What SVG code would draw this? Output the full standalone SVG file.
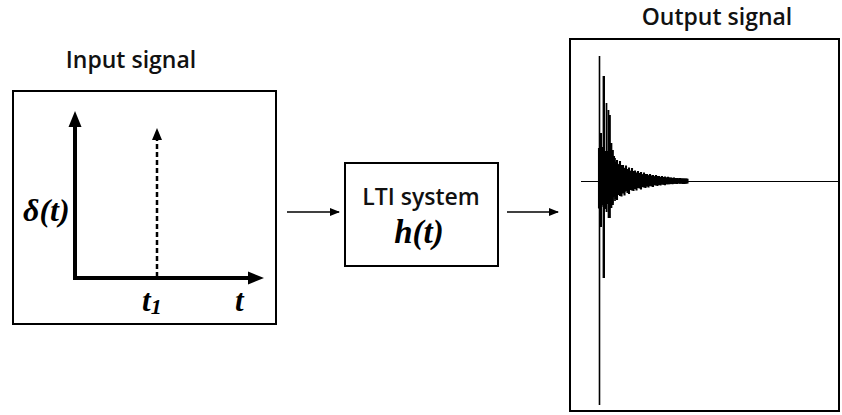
<svg xmlns="http://www.w3.org/2000/svg" width="842" height="415" viewBox="0 0 842 415">
<style>
.box{fill:#fff;stroke:#000;stroke-width:2}
.title{font-family:"Open Sans","Liberation Sans",sans-serif;font-weight:600;font-size:23px;fill:#111;text-anchor:middle}
.math{font-family:"Liberation Serif","Times New Roman",serif;font-weight:bold;font-style:italic;fill:#000}
.conn{stroke:#000;stroke-width:1.3;fill:none}
.osc{stroke:#000;stroke-width:2.1;fill:none}
</style>
<defs>
<marker id="ah" markerWidth="10" markerHeight="8" refX="9" refY="4" orient="auto" markerUnits="userSpaceOnUse">
<path d="M0,0 L10,4 L0,8 Z" fill="#000"/>
</marker>
</defs>

<g id="input-signal">
<text class="title" x="131" y="68">Input signal</text>
<rect class="box" x="13" y="91" width="263" height="233"/>
<line x1="75" y1="280" x2="75" y2="124" stroke="#000" stroke-width="4"/>
<path d="M75,111 L81.5,127 L68.5,127 Z" fill="#000"/>
<line x1="73" y1="278" x2="250" y2="278" stroke="#000" stroke-width="4"/>
<path d="M264,278 L248,271.5 L248,284.5 Z" fill="#000"/>
<line x1="157" y1="277" x2="157" y2="139" stroke="#000" stroke-width="2.5" stroke-dasharray="5,3"/>
<path d="M157,128 L162,140 L152,140 Z" fill="#000"/>
<text class="math" x="23" y="221" font-size="32">δ(t)</text>
<text class="math" x="142" y="311" font-size="31">t<tspan font-size="22" dy="3">1</tspan></text>
<text class="math" x="235" y="311" font-size="31">t</text>
</g>

<g id="lti-system">
<rect class="box" x="345" y="163" width="153" height="103"/>
<text class="title" x="421" y="205">LTI system</text>
<text class="math" x="419" y="243" font-size="33" text-anchor="middle">h(t)</text>
</g>

<g id="output-signal">
<text class="title" x="717" y="25">Output signal</text>
<rect class="box" x="570" y="39" width="269" height="372"/>
<line x1="581" y1="181.5" x2="838" y2="181.5" stroke="#000" stroke-width="1.2"/>
<line x1="599.5" y1="56" x2="599.5" y2="405" stroke="#000" stroke-width="1.6"/>
<polygon fill="#000" points="599,150 605,154 611,158 617,163 623,167 629,170 635,172.5 641,174 647,175 653,176 659,176.8 665,177.3 671,177.8 680,178.3 688,178.8 688,183.3 680,183.6 671,184 665,184.4 659,184.8 653,185.5 647,186.3 641,187.5 635,188.5 629,190.5 623,192.5 617,195.5 611,198.5 605,204 599,207"/>
<path class="osc" d="M599,148V208.5M600.5,152V213M602,147V203M603.5,154V207M605,151V209M606.5,158V203M608,151V204M609.5,157V205M611,156V200M612.5,160V203M614,156V196M615.5,162V199M617,160V200M618.5,166V195M620,161V196M621.5,165V196.5M623,165V193.5M624.5,168V195.5M626,165.5V191M627.5,169V193M629,167.5V194M630.5,171V190M632,168V190.5M633.5,171V191M635,170.5V189M636.5,172.5V190.5M638,171V187.5M639.5,173V188.5M641,172V189.5M642.5,174.5V187M644,172.5V187.5M645.5,174V188M647,174V186.5M648.5,175.5V187.5M650,174V185.5M651.5,175.5V186.5M653,175V187M654.5,176.5V185M656,175V185.5M657.5,176V186M659,176V185M660.5,177V185.5M662,176V184M663.5,177V184.8M665,176.5V185.2M666.5,177.8V184M668,176.7V184.2M669.5,177.6V184.3M671,177.5V183.8M672.5,178V184.3M674,177.5V183.4M675.5,178.2V183.8M677,177.9V184M678.5,178.6V183.3M680,177.9V183.7M681.5,178.4V183.7M683,178.4V184M684.5,178.6V184M686,178.5V183.7M687.5,178.7V183.6"/>
<path d="M600.8,133V227M603.8,76V278" stroke="#000" stroke-width="2.4" fill="none"/>
<path d="M606.5,103V212M608.5,110V218M610,115V218M611.5,143V208M613,150V205M615,158V201" stroke="#000" stroke-width="1.7" fill="none"/>
</g>

<g id="connectors">
<line class="conn" x1="287" y1="212" x2="339" y2="212" marker-end="url(#ah)"/>
<line class="conn" x1="507" y1="212" x2="558" y2="212" marker-end="url(#ah)"/>
</g>
</svg>
